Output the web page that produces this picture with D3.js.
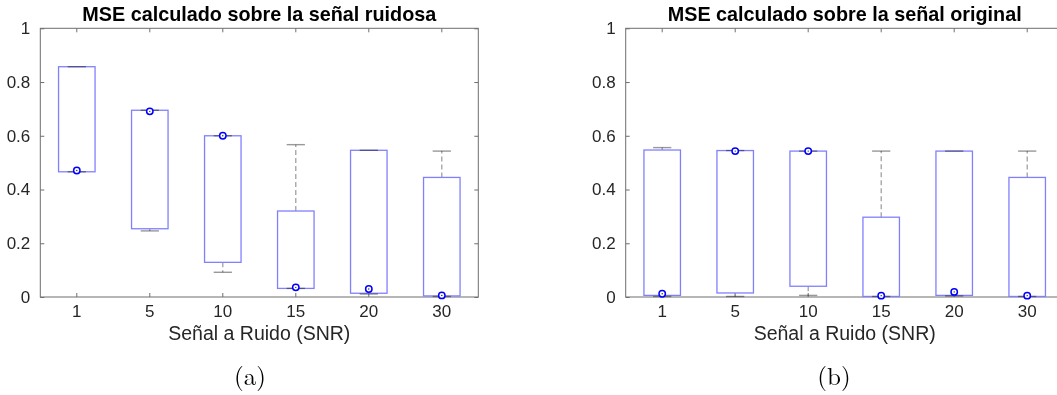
<!DOCTYPE html>
<html>
<head>
<meta charset="utf-8">
<script src="https://cdn.jsdelivr.net/npm/d3@7"></script>
<style>
  html, body { margin: 0; padding: 0; background: #fff; }
  svg { display: block; }
  text { font-family: "Liberation Sans", Arial, Helvetica, sans-serif; }
</style>
</head>
<body>
<svg id="fig" width="1057" height="395"></svg>
<script>
// SNR groups (x axis categories)
const snrLabels = ["1", "5", "10", "15", "20", "30"];
const yTicks = [0, 0.2, 0.4, 0.6, 0.8, 1];

// MSE on the noisy signal: whisker low, Q1, median, Q3, whisker high
const ruidosaLow  = [0.466, 0.246, 0.092, 0.032, 0.011, 0.002];
const ruidosaQ1   = [0.466, 0.254, 0.129, 0.032, 0.014, 0.004];
const ruidosaMed  = [0.471, 0.691, 0.600, 0.036, 0.030, 0.006];
const ruidosaQ3   = [0.857, 0.695, 0.600, 0.320, 0.546, 0.445];
const ruidosaHigh = [0.857, 0.695, 0.600, 0.567, 0.546, 0.543];

// MSE on the original signal
const originalLow  = [0.002, 0.002, 0.006, 0.002, 0.004, 0.002];
const originalQ1   = [0.006, 0.015, 0.040, 0.002, 0.006, 0.002];
const originalMed  = [0.012, 0.543, 0.543, 0.005, 0.019, 0.005];
const originalQ3   = [0.547, 0.545, 0.543, 0.297, 0.543, 0.445];
const originalHigh = [0.556, 0.545, 0.543, 0.543, 0.543, 0.543];

function toRows(lo, q1, med, q3, hi) {
  return snrLabels.map((s, i) => ({ snr: s, lo: lo[i], q1: q1[i], med: med[i], q3: q3[i], hi: hi[i] }));
}

const panels = [
  { title: "MSE calculado sobre la señal ruidosa", tag: "(a)", left: 40.3, tagX: 250,
    rows: toRows(ruidosaLow, ruidosaQ1, ruidosaMed, ruidosaQ3, ruidosaHigh) },
  { title: "MSE calculado sobre la señal original", tag: "(b)", left: 625.7, tagX: 834,
    rows: toRows(originalLow, originalQ1, originalMed, originalQ3, originalHigh) }
];

const svg = d3.select("#fig");
const plotW = 438, plotTop = 28.3, plotBottom = 297;
const axisColor = "#6e6e6e", labelColor = "#262626";
const boxColor = "#8080ff", whiskerColor = "#999999", medColor = "#0000ff";

panels.forEach(p => {
  const g = svg.append("g");
  const x = d3.scaleBand().domain(snrLabels).range([p.left, p.left + plotW]).paddingInner(0.5).paddingOuter(0.25);
  const y = d3.scaleLinear().domain([0, 1]).range([plotBottom, plotTop]);
  const bw = x.bandwidth();
  const cx = d => x(d.snr) + bw / 2;

  // axes frame (box on, ticks pointing inward on all sides)
  g.append("rect").attr("x", p.left).attr("y", plotTop).attr("width", plotW).attr("height", plotBottom - plotTop)
    .attr("fill", "none").attr("stroke", axisColor).attr("stroke-width", 1);

  const xb = g.append("g").attr("transform", `translate(0,${plotBottom})`)
    .call(d3.axisBottom(x).tickSizeInner(-4).tickSizeOuter(0).tickPadding(7));
  const xt = g.append("g").attr("transform", `translate(0,${plotTop})`)
    .call(d3.axisTop(x).tickSizeInner(-4).tickSizeOuter(0).tickFormat(""));
  const yl = g.append("g").attr("transform", `translate(${p.left},0)`)
    .call(d3.axisLeft(y).tickValues(yTicks).tickFormat(d3.format("~g")).tickSizeInner(-4).tickSizeOuter(0).tickPadding(10));
  const yr = g.append("g").attr("transform", `translate(${p.left + plotW},0)`)
    .call(d3.axisRight(y).tickValues(yTicks).tickSizeInner(-4).tickSizeOuter(0).tickFormat(""));
  [xb, xt, yl, yr].forEach(a => {
    a.select(".domain").remove();
    a.selectAll(".tick line").attr("stroke", axisColor);
    a.selectAll("text").attr("fill", labelColor).style("font-size", "17px")
      .style("font-family", "'Liberation Sans', Arial, sans-serif");
  });
  xb.selectAll(".tick text").attr("dy", "0.71em").attr("y", 8.2);

  const marks = g.append("g");

  // whiskers (dashed)
  marks.selectAll("line.wu").data(p.rows).join("line")
    .attr("x1", cx).attr("x2", cx).attr("y1", d => y(d.q3)).attr("y2", d => y(d.hi))
    .attr("stroke", whiskerColor).attr("stroke-width", 1.2).attr("stroke-dasharray", "5,3");
  marks.selectAll("line.wl").data(p.rows).join("line")
    .attr("x1", cx).attr("x2", cx).attr("y1", d => y(d.q1)).attr("y2", d => y(d.lo))
    .attr("stroke", whiskerColor).attr("stroke-width", 1.2).attr("stroke-dasharray", "5,3");

  // boxes
  marks.selectAll("rect.box").data(p.rows).join("rect")
    .attr("x", d => x(d.snr)).attr("width", bw)
    .attr("y", d => y(d.q3)).attr("height", d => y(d.q1) - y(d.q3))
    .attr("fill", "none").attr("stroke", boxColor).attr("stroke-width", 1.3);

  // caps, multiplied over the box edge where they coincide
  ["hi", "lo"].forEach(k => {
    marks.selectAll("line.cap-" + k).data(p.rows).join("line")
      .attr("x1", d => cx(d) - bw / 4).attr("x2", d => cx(d) + bw / 4)
      .attr("y1", d => y(d[k])).attr("y2", d => y(d[k]))
      .attr("stroke", whiskerColor).attr("stroke-width", 1.4)
      .style("mix-blend-mode", "multiply");
  });

  // medians: target markers
  marks.selectAll("circle.med").data(p.rows).join("circle")
    .attr("cx", cx).attr("cy", d => y(d.med)).attr("r", 3.2)
    .attr("fill", "#fff").attr("stroke", medColor).attr("stroke-width", 1.5);
  marks.selectAll("circle.dot").data(p.rows).join("circle")
    .attr("cx", cx).attr("cy", d => y(d.med)).attr("r", 0.7).attr("fill", "#222");

  // title, axis label and subfigure tag
  const mid = p.left + plotW / 2;
  g.append("text").attr("x", mid).attr("y", 20.7).attr("text-anchor", "middle")
    .style("font-size", "19.8px").style("font-weight", "bold").attr("fill", "#000").text(p.title);
  g.append("text").attr("x", mid).attr("y", 340).attr("text-anchor", "middle")
    .style("font-size", "19.5px").attr("fill", labelColor).text("Señal a Ruido (SNR)");
  g.append("text").attr("x", p.tagX).attr("y", 385).attr("text-anchor", "middle")
    .style("font-family", "'Latin Modern Roman', 'Liberation Serif', 'DejaVu Serif', serif")
    .style("font-size", "25px").attr("fill", "#000").text(p.tag);
});
</script>
</body>
</html>
